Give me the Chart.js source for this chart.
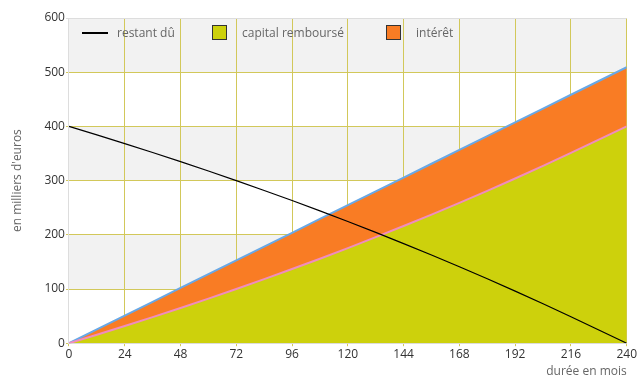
<!DOCTYPE html>
<html>
<head>
<meta charset="utf-8">
<script src="https://cdn.jsdelivr.net/npm/chart.js@4"></script>
<style>
  html, body { margin: 0; padding: 0; background: #fff; }
  #wrap { position: relative; width: 638px; height: 379px; }
  canvas { display: block; }
  .legend { position: absolute; top: 25px; left: 82px; font: 12px "Open Sans", sans-serif; color: #666; }
  .item { position: absolute; top: 0; white-space: nowrap; line-height: 16px; }
  .line { position: absolute; top: 7px; width: 26px; height: 2px; background: #000; }
  .box { position: absolute; top: 0; width: 13px; height: 13px; border: 1px solid #333; }
</style>
</head>
<body>
<div id="wrap">
  <canvas id="chart" width="638" height="379"></canvas>
  <div class="legend">
    <div class="item" style="left:0"><span class="line"></span><span style="margin-left:35px">restant dû</span></div>
    <div class="item" style="left:130px"><span class="box" style="background:#cdd10c"></span><span style="margin-left:30px">capital remboursé</span></div>
    <div class="item" style="left:304px"><span class="box" style="background:#f97c24"></span><span style="margin-left:30px">intérêt</span></div>
  </div>
</div>
<script>
// mois (tous les 12 mois)
const months = [0, 12, 24, 36, 48, 60, 72, 84, 96, 108, 120, 132, 144, 156, 168, 180, 192, 204, 216, 228, 240];

// en milliers d'euros
const restantDu = [400, 384.4, 368.3, 351.9, 335.0, 317.7, 300.0, 281.8, 263.2, 244.1, 224.5, 204.4, 183.8, 162.7, 141.1, 118.9, 96.1, 72.8, 48.9, 24.4, 0];
const capitalRembourse = [0, 15.6, 31.7, 48.1, 65.0, 82.3, 100.0, 118.2, 136.8, 155.9, 175.5, 195.6, 216.2, 237.3, 258.9, 281.1, 303.9, 327.2, 351.1, 375.6, 400];
const interet = [0, 9.8, 19.3, 28.3, 36.9, 45.1, 52.8, 60.1, 66.9, 73.3, 79.2, 84.5, 89.4, 93.8, 97.6, 100.9, 103.6, 105.7, 107.3, 108.2, 109.3];

const xTicks = [0, 24, 48, 72, 96, 120, 144, 168, 192, 216, 240];
const yTicks = [0, 100, 200, 300, 400, 500, 600];

const toPoints = vals => vals.map((v, i) => ({ x: months[i], y: v }));

// bandes grises alternées dans la zone du graphique
const bandsPlugin = {
  id: 'bands',
  beforeDraw(chart) {
    const { ctx, chartArea, scales } = chart;
    ctx.save();
    ctx.fillStyle = '#f2f2f2';
    for (let i = 1; i < yTicks.length; i += 2) {
      const top = scales.y.getPixelForValue(yTicks[i + 1]);
      const bottom = scales.y.getPixelForValue(yTicks[i]);
      ctx.fillRect(chartArea.left, top, chartArea.right - chartArea.left, bottom - top);
    }
    ctx.restore();
  }
};

const gridColor = '#d2c85a';
const tickFont = { family: '"Open Sans", sans-serif', size: 12 };

new Chart(document.getElementById('chart'), {
  type: 'line',
  data: {
    datasets: [
      {
        label: 'restant dû',
        data: toPoints(restantDu),
        borderColor: '#000',
        borderWidth: 1.2,
        pointRadius: 0,
        fill: false,
        stack: 'b'
      },
      {
        label: 'capital remboursé',
        data: toPoints(capitalRembourse),
        borderColor: '#f08cbe',
        backgroundColor: '#cdd10c',
        borderWidth: 2,
        pointRadius: 0,
        fill: 'origin',
        stack: 'a'
      },
      {
        label: 'intérêt',
        data: toPoints(interet),
        borderColor: '#68a8e6',
        backgroundColor: '#f97c24',
        borderWidth: 2,
        pointRadius: 0,
        fill: 1,
        stack: 'a'
      }
    ]
  },
  options: {
    responsive: false,
    animation: false,
    layout: { padding: { top: 18, right: 10, left: 10, bottom: 0 } },
    plugins: {
      legend: { display: false },
      tooltip: { enabled: false }
    },
    scales: {
      x: {
        type: 'linear',
        min: 0,
        max: 240,
        afterBuildTicks: axis => { axis.ticks = xTicks.map(v => ({ value: v })); },
        grid: { color: gridColor, drawTicks: true, tickLength: 3 },
        border: { color: '#dddddd' },
        ticks: { color: '#333', font: tickFont, padding: 1, maxRotation: 0 },
        title: {
          display: true,
          text: 'durée en mois',
          align: 'end',
          color: '#666',
          font: tickFont,
          padding: { top: 2, bottom: 0 }
        }
      },
      y: {
        stacked: true,
        min: 0,
        max: 600,
        afterBuildTicks: axis => { axis.ticks = yTicks.map(v => ({ value: v })); },
        grid: { color: ctx => ctx.tick && ctx.tick.value === 600 ? '#dddddd' : gridColor, drawTicks: true, tickLength: 3 },
        border: { color: '#dddddd' },
        ticks: { color: '#333', font: tickFont, padding: 1 },
        title: {
          display: true,
          text: "en milliers d'euros",
          color: '#666',
          font: tickFont,
          padding: { top: 0, bottom: 19 }
        }
      }
    }
  },
  plugins: [bandsPlugin]
});
</script>
</body>
</html>
